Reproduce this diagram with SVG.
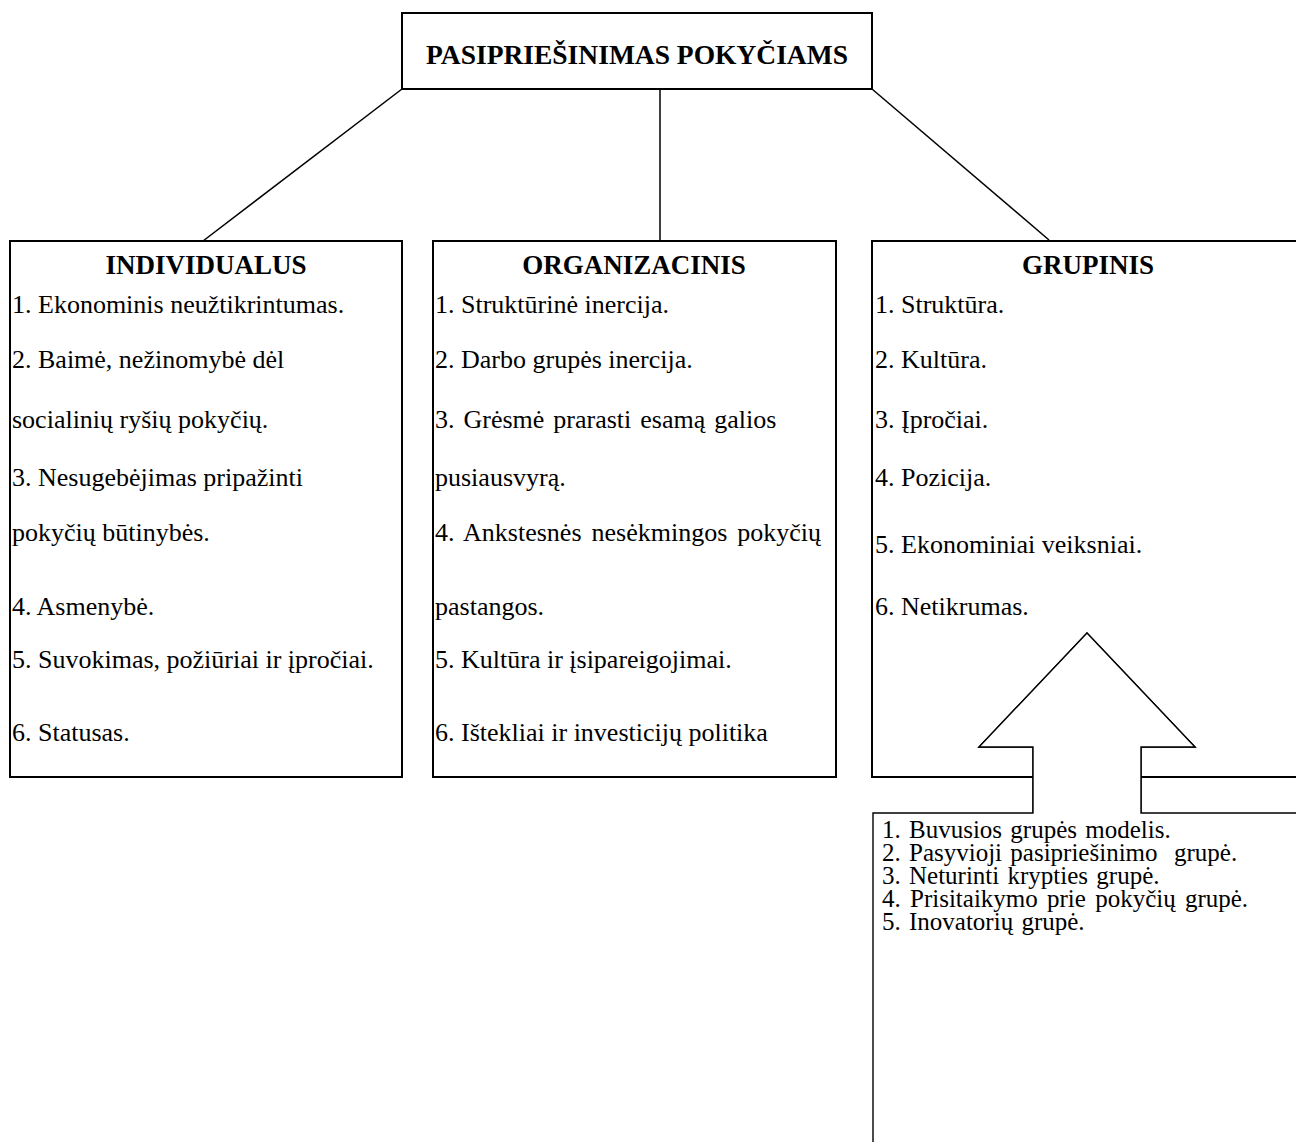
<svg xmlns="http://www.w3.org/2000/svg" width="1296" height="1142" viewBox="0 0 1296 1142">
<style>
text{font-family:"Liberation Serif","Times New Roman",serif;fill:#000}
.b{font-size:26px}
.s{font-size:25px}
.h{font-size:27px;font-weight:bold;text-anchor:middle}
.t{font-size:27.5px;font-weight:bold;text-anchor:middle}
.box{fill:#fff;stroke:#000;stroke-width:2}
.ln{fill:none;stroke:#000;stroke-width:1.5}
.ar{fill:#fff;stroke:#000;stroke-width:1.4}
</style>
<rect width="1296" height="1142" fill="#fff"/>
<g id="connectors">
<line class="ln" x1="402" y1="89" x2="203" y2="241"/>
<line class="ln" x1="660" y1="89" x2="660" y2="241"/>
<line class="ln" x1="872" y1="89" x2="1049" y2="240"/>
</g>
<g id="root">
<rect class="box" x="402" y="13" width="470" height="76"/>
<text class="t" x="637" y="64">PASIPRIEŠINIMAS POKYČIAMS</text>
</g>
<g id="individualus">
<rect class="box" x="10" y="241" width="392" height="536"/>
<text class="h" x="206" y="274">INDIVIDUALUS</text>
<text class="b" x="12" y="313">1. Ekonominis neužtikrintumas.</text>
<text class="b" x="12" y="368">2. Baimė, nežinomybė dėl</text>
<text class="b" x="12" y="428">socialinių ryšių pokyčių.</text>
<text class="b" x="12" y="486">3. Nesugebėjimas pripažinti</text>
<text class="b" x="12" y="541">pokyčių būtinybės.</text>
<text class="b" x="12" y="615">4. Asmenybė.</text>
<text class="b" x="12" y="668">5. Suvokimas, požiūriai ir įpročiai.</text>
<text class="b" x="12" y="741">6. Statusas.</text>
</g>
<g id="organizacinis">
<rect class="box" x="433" y="241" width="403" height="536"/>
<text class="h" x="634" y="274">ORGANIZACINIS</text>
<text class="b" x="435" y="313">1. Struktūrinė inercija.</text>
<text class="b" x="435" y="368">2. Darbo grupės inercija.</text>
<text class="b" x="435" y="428" word-spacing="2.5">3. Grėsmė prarasti esamą galios</text>
<text class="b" x="435" y="486">pusiausvyrą.</text>
<text class="b" x="435" y="541" word-spacing="3.5">4. Ankstesnės nesėkmingos pokyčių</text>
<text class="b" x="435" y="615">pastangos.</text>
<text class="b" x="435" y="668">5. Kultūra ir įsipareigojimai.</text>
<text class="b" x="435" y="741">6. Ištekliai ir investicijų politika</text>
</g>
<g id="grupinis">
<rect class="box" x="872" y="241" width="440" height="536"/>
<text class="h" x="1088" y="274">GRUPINIS</text>
<text class="b" x="875" y="313">1. Struktūra.</text>
<text class="b" x="875" y="368">2. Kultūra.</text>
<text class="b" x="875" y="428">3. Įpročiai.</text>
<text class="b" x="875" y="486">4. Pozicija.</text>
<text class="b" x="875" y="553">5. Ekonominiai veiksniai.</text>
<text class="b" x="875" y="615">6. Netikrumas.</text>
</g>
<g id="grupes-tipai">
<polygon class="ar" points="1033,813 1033,747 979,747 1087,633 1195,747 1141,747 1141,813" stroke="none"/>
<path class="ar" fill="none" d="M873,1150 V813 H1033 V747 H979 L1087,633 L1195,747 H1141 V813 H1300"/>
<text class="s" x="882" y="838" word-spacing="2">1. Buvusios grupės modelis.</text>
<text class="s" x="882" y="861" word-spacing="2" xml:space="preserve">2. Pasyvioji pasipriešinimo  grupė.</text>
<text class="s" x="882" y="884" word-spacing="2">3. Neturinti krypties grupė.</text>
<text class="s" x="882" y="907" word-spacing="3">4. Prisitaikymo prie pokyčių grupė.</text>
<text class="s" x="882" y="930" word-spacing="2">5. Inovatorių grupė.</text>
</g>
</svg>
